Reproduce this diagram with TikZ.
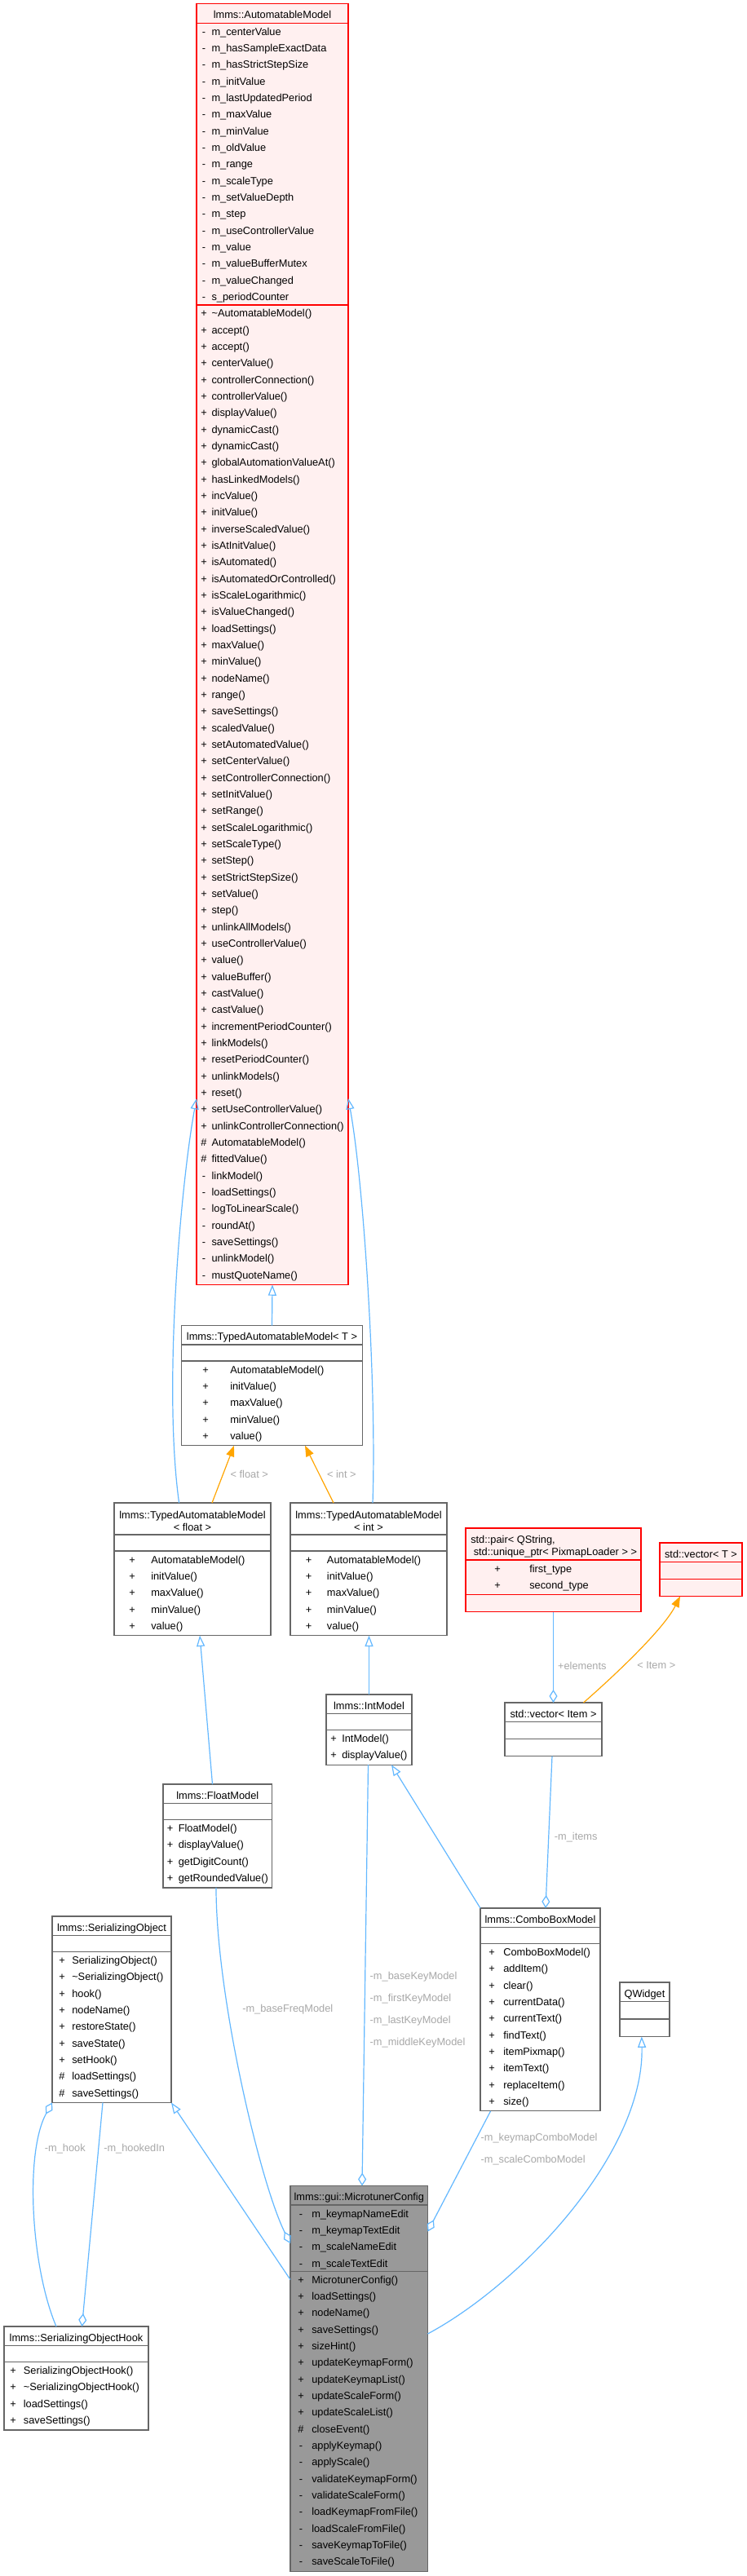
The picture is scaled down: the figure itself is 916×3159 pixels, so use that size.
\documentclass[tikz,border=0pt]{standalone}
\usepackage{fontspec}
\setmainfont{Liberation Sans}
\usetikzlibrary{arrows.meta,calc,positioning}

\definecolor{edgeblue}{HTML}{63B8FF}
\definecolor{tmplorange}{HTML}{FFA500}
\definecolor{boxgray}{HTML}{666666}
\definecolor{cfgfill}{HTML}{999999}
\definecolor{pinkfill}{HTML}{FFF0F0}
\definecolor{redline}{HTML}{FF0000}
\definecolor{labelgray}{HTML}{A8A8A8}

\newcommand{\px}{0.75pt}
% 类框: 名称, 样式, x, y, 宽, 标题高, 第二栏高, 第三栏高
\newcommand{\umlclass}[8]{%
  \node[#2, outer sep=0pt, minimum width={#5*\px}, minimum height={(#6+#7+#8)*\px}, anchor=north west] (#1) at (#3,#4) {};
  \draw[#2, fill=none] ($(#1.north west)+(0,#6)$) -- ++(#5,0);
  \draw[#2, fill=none] ($(#1.north west)+(0,#6+#7)$) -- ++(#5,0);
}
% 成员行: 前缀, 符号x, 名称x, 首行基线y, 列表
\newcommand{\umlrows}[5]{%
  \foreach \vsym/\mname [count=\i] in {#5} {
    \node[member, anchor=base] (#1s\i) at (#2,{#4+(\i-1)*20.33}) {\vsym};
    \node[member, anchor=base west] (#1n\i) at (#3,{#4+(\i-1)*20.33}) {\mname};
  }
}

\begin{document}
\begin{tikzpicture}[x=0.75pt, y=-0.75pt,
    member/.style={font=\fontsize{9.6}{15.25}\selectfont, inner sep=0pt},
    elabel/.style={font=\fontsize{9.6}{20.3}\selectfont, text=labelgray, inner sep=0pt, align=left, anchor=west},
    plainbox/.style={draw=boxgray, fill=white, line width=1pt},
    redbox/.style={draw=redline, fill=pinkfill, line width=1pt},
    cfgbox/.style={draw=boxgray, fill=cfgfill, line width=1pt},
    inherit/.style={draw=edgeblue, line width=0.9pt, -{Triangle[open, length=10pt, width=7.5pt]}},
    tmpl/.style={draw=tmplorange, line width=0.9pt, -{Triangle[length=10pt, width=7.5pt]}},
    aggr/.style={draw=edgeblue, line width=0.9pt, {Diamond[open, length=12pt, width=7.5pt]}-}]
    \fill[white] (0,0) rectangle (916,3159);
    \useasboundingbox (0,0) rectangle (916,3159);

    % AutomatableModel
    \umlclass{am}{redbox}{241}{4.7}{186}{23.6}{345.6}{1201.5}
    \node[member, anchor=base] (am-t) at ($(am.north)+(0,18)$) {lmms::AutomatableModel};
    \umlrows{am-a}{250}{259.3}{43.3}{-/m\_centerValue, -/m\_hasSampleExactData, -/m\_hasStrictStepSize, -/m\_initValue, -/m\_lastUpdatedPeriod, -/m\_maxValue, -/m\_minValue, -/m\_oldValue, -/m\_range, -/m\_scaleType, -/m\_setValueDepth, -/m\_step, -/m\_useControllerValue, -/m\_value, -/m\_valueBufferMutex, -/m\_valueChanged, -/s\_periodCounter}
    \umlrows{am-m}{250}{259.3}{388.9}{+/\textasciitilde AutomatableModel(), +/accept(), +/accept(), +/centerValue(), +/controllerConnection(), +/controllerValue(), +/displayValue(), +/dynamicCast(), +/dynamicCast(), +/globalAutomationValueAt(), +/hasLinkedModels(), +/incValue(), +/initValue(), +/inverseScaledValue(), +/isAtInitValue(), +/isAutomated(), +/isAutomatedOrControlled(), +/isScaleLogarithmic(), +/isValueChanged(), +/loadSettings(), +/maxValue(), +/minValue(), +/nodeName(), +/range(), +/saveSettings(), +/scaledValue(), +/setAutomatedValue(), +/setCenterValue(), +/setControllerConnection(), +/setInitValue(), +/setRange(), +/setScaleLogarithmic(), +/setScaleType(), +/setStep(), +/setStrictStepSize(), +/setValue(), +/step(), +/unlinkAllModels(), +/useControllerValue(), +/value(), +/valueBuffer(), +/castValue(), +/castValue(), +/incrementPeriodCounter(), +/linkModels(), +/resetPeriodCounter(), +/unlinkModels(), +/reset(), +/setUseControllerValue(), +/unlinkControllerConnection(), \#/AutomatableModel(), \#/fittedValue(), -/linkModel(), -/loadSettings(), -/logToLinearScale(), -/roundAt(), -/saveSettings(), -/unlinkModel(), -/mustQuoteName()}

    % TypedAutomatableModel
    \umlclass{tam}{plainbox}{222.5}{1625.6}{222}{23.5}{20}{103.65}
    \node[member, anchor=base] (tam-t) at ($(tam.north)+(0,18)$) {lmms::TypedAutomatableModel< T >};
    \umlrows{tam-m}{252}{282}{1684.1}{+/AutomatableModel(), +/initValue(), +/maxValue(), +/minValue(), +/value()}

    \umlclass{tfl}{plainbox}{140}{1843}{192}{39}{20}{103.65}
    \node[member, anchor=base] (tfl-t1) at ($(tfl.north)+(0,19)$) {lmms::TypedAutomatableModel};
    \node[member, anchor=base] (tfl-t2) at ($(tfl.north)+(0,34)$) {< float >};
    \umlrows{tfl-m}{162}{185}{1917}{+/AutomatableModel(), +/initValue(), +/maxValue(), +/minValue(), +/value()}

    \umlclass{tint}{plainbox}{356}{1843}{192}{39}{20}{103.65}
    \node[member, anchor=base] (tint-t1) at ($(tint.north)+(0,19)$) {lmms::TypedAutomatableModel};
    \node[member, anchor=base] (tint-t2) at ($(tint.north)+(0,34)$) {< int >};
    \umlrows{tint-m}{378.5}{400.7}{1917}{+/AutomatableModel(), +/initValue(), +/maxValue(), +/minValue(), +/value()}

    % std 容器
    \umlclass{pair}{redbox}{571}{1874}{215}{39}{42.66}{21}
    \node[member, anchor=base west] (pair-t1) at ($(pair.north west)+(6,18.5)$) {std::pair< QString,};
    \node[member, anchor=base west] (pair-t2) at ($(pair.north west)+(9.5,33.7)$) {std::unique\_ptr< PixmapLoader > >};
    \umlrows{pair-a}{610}{649}{1928}{+/first\_type, +/second\_type}

    \umlclass{vt}{redbox}{809}{1892}{101}{23.5}{21}{21}
    \node[member, anchor=base] (vt-t) at ($(vt.north)+(0,18)$) {std::vector< T >};

    \umlclass{vi}{plainbox}{619}{2088}{119}{23.5}{21}{21}
    \node[member, anchor=base] (vi-t) at ($(vi.north)+(0,18)$) {std::vector< Item >};

    % 模型类
    \umlclass{im}{plainbox}{400}{2078}{105}{23.5}{20}{42.66}
    \node[member, anchor=base] (im-t) at ($(im.north)+(0,18)$) {lmms::IntModel};
    \umlrows{im-m}{409}{419}{2136.5}{+/IntModel(), +/displayValue()}

    \umlclass{fm}{plainbox}{200}{2188}{133.5}{23.5}{20}{83.32}
    \node[member, anchor=base] (fm-t) at ($(fm.north)+(0,18)$) {lmms::FloatModel};
    \umlrows{fm-m}{208.5}{218.5}{2246.5}{+/FloatModel(), +/displayValue(), +/getDigitCount(), +/getRoundedValue()}

    \umlclass{so}{plainbox}{64}{2350}{146}{23.5}{20}{184.97}
    \node[member, anchor=base] (so-t) at ($(so.north)+(0,18)$) {lmms::SerializingObject};
    \umlrows{so-m}{76}{88}{2408.5}{+/SerializingObject(), +/\textasciitilde SerializingObject(), +/hook(), +/nodeName(), +/restoreState(), +/saveState(), +/setHook(), \#/loadSettings(), \#/saveSettings()}

    \umlclass{cbm}{plainbox}{589}{2340}{147}{23.5}{20}{205.3}
    \node[member, anchor=base] (cbm-t) at ($(cbm.north)+(0,18)$) {lmms::ComboBoxModel};
    \umlrows{cbm-m}{603}{617}{2398.5}{+/ComboBoxModel(), +/addItem(), +/clear(), +/currentData(), +/currentText(), +/findText(), +/itemPixmap(), +/itemText(), +/replaceItem(), +/size()}

    \umlclass{qw}{plainbox}{760}{2431}{61}{23.5}{21.5}{21.5}
    \node[member, anchor=base] (qw-t) at ($(qw.north)+(0,18)$) {QWidget};

    \umlclass{mc}{cfgbox}{356}{2680.5}{168.5}{23.5}{81.3}{367.9}
    \node[member, anchor=base] (mc-t) at ($(mc.north)+(0,18)$) {lmms::gui::MicrotunerConfig};
    \umlrows{mc-a}{369}{382}{2719}{-/m\_keymapNameEdit, -/m\_keymapTextEdit, -/m\_scaleNameEdit, -/m\_scaleTextEdit}
    \umlrows{mc-m}{369}{382}{2800.3}{+/MicrotunerConfig(), +/loadSettings(), +/nodeName(), +/saveSettings(), +/sizeHint(), +/updateKeymapForm(), +/updateKeymapList(), +/updateScaleForm(), +/updateScaleList(), \#/closeEvent(), -/applyKeymap(), -/applyScale(), -/validateKeymapForm(), -/validateScaleForm(), -/loadKeymapFromFile(), -/loadScaleFromFile(), -/saveKeymapToFile(), -/saveScaleToFile()}

    \umlclass{soh}{plainbox}{5}{2853}{177}{23.5}{20}{83.3}
    \node[member, anchor=base] (soh-t) at ($(soh.north)+(0,18)$) {lmms::SerializingObjectHook};
    \umlrows{soh-m}{16}{28.6}{2911.5}{+/SerializingObjectHook(), +/\textasciitilde SerializingObjectHook(), +/loadSettings(), +/saveSettings()}

    % 继承
    \draw[inherit] (tam.north) -- (am.south);
    \draw[inherit] ($(tfl.north)+(-16.4,0)$) .. controls +(-20,-143) and +(-19,103) .. ($(am.south west)+(0,-228.4)$);
    \draw[inherit] ($(tint.north)+(5,0)$) .. controls +(5,-143) and +(19,103) .. ($(am.south east)+(0,-228.4)$);
    \draw[inherit] ($(fm.north)+(-6.25,0)$) -- ($(tfl.south)+(9,0)$);
    \draw[inherit] (im.north) -- (im.north |- tint.south);
    \draw[inherit] (cbm.north west) -- ($(im.south)+(27.5,0)$);
    \draw[inherit] ($(mc.north west)+(0,115)$) -- (so.south east);
    \draw[inherit] ($(mc.north east)+(0,181.5)$) .. controls +(115.5,-62) and +(3.2,142.5) .. ($(qw.south)+(-3.7,0)$);

    % 模板实例
    \draw[tmpl] ($(tfl.north)+(24,0)$) -- ($(tam.south)+(-46.5,0)$) node[elabel, midway, xshift=8.5*\px] {< float >};
    \draw[tmpl] ($(tint.north)+(-43,0)$) -- ($(tam.south)+(40.5,0)$) node[elabel, midway, xshift=9*\px] {< int >};
    \draw[tmpl] ($(vi.north)+(37,0)$) .. controls +(40,-35) and +(-20,40) .. ($(vt.south)+(-25.5,0)$) node[elabel, pos=0.4, xshift=12*\px, yshift=-4*\px] {< Item >};

    % 聚合
    \draw[aggr] (vi.north) -- (pair.south) node[elabel, pos=0.404, xshift=5*\px] {+elements};
    \draw[aggr] ($(cbm.north)+(6.5,0)$) -- ($(vi.south)+(-1.5,0)$) node[elabel, pos=0.466, xshift=6.6*\px] {-m\_items};
    \draw[aggr] ($(mc.north)+(3.75,0)$) -- ($(im.south)+(-1,0)$) node[elabel, pos=0.4176, xshift=6*\px] {-m\_baseKeyModel\\-m\_firstKeyModel\\-m\_lastKeyModel\\-m\_middleKeyModel};
    \draw[aggr] ($(mc.north west)+(0,70.5)$) .. controls +(-36,-71) and +(0,135) .. ($(fm.south)+(-1.75,0)$) node[elabel, pos=0.7, xshift=18.8*\px, yshift=-9.3*\px] {-m\_baseFreqModel};
    \draw[aggr] ($(mc.north east)+(0,56)$) -- ($(cbm.south west)+(12.6,0)$) node[elabel, pos=0.686, xshift=11.6*\px] {-m\_keymapComboModel\\-m\_scaleComboModel};
    \draw[aggr] (so.south west) .. controls +(-34,61.5) and +(-31,-73) .. ($(soh.north west)+(64,0)$) node[elabel, pos=0.2, xshift=5.8*\px, yshift=-11*\px] {-m\_hook};
    \draw[aggr] ($(soh.north west)+(95.5,0)$) -- ($(so.south west)+(62,0)$) node[elabel, pos=0.792, xshift=6*\px] {-m\_hookedIn};
\end{tikzpicture}
\end{document}
